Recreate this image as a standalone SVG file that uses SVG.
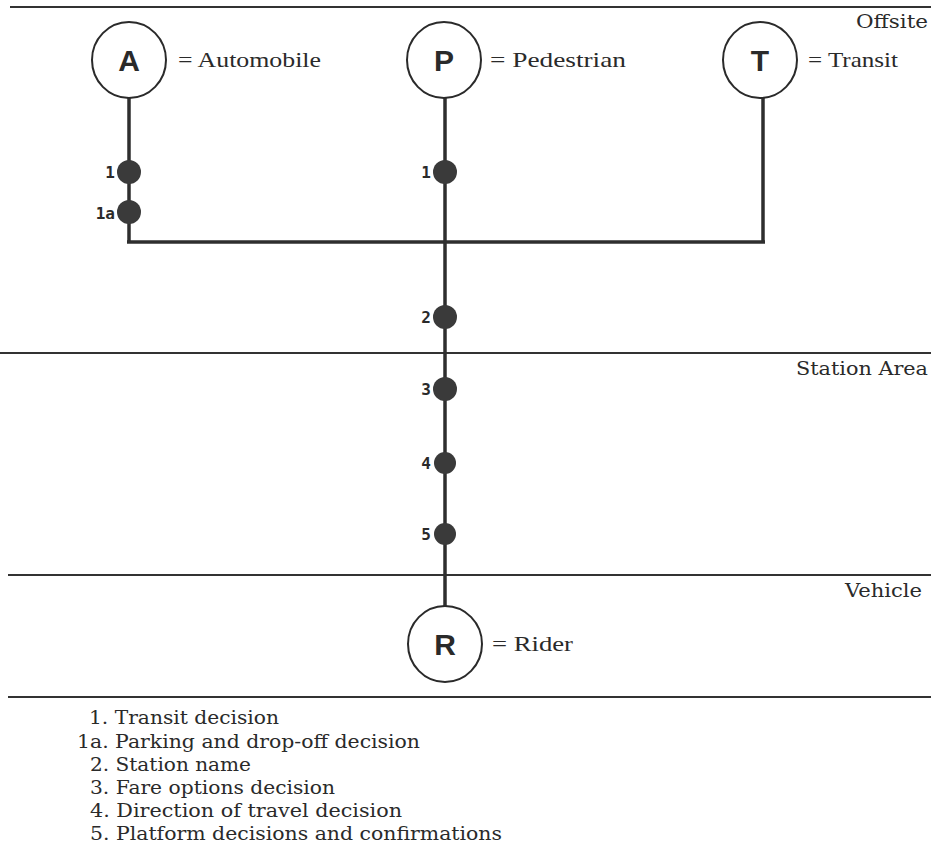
<svg xmlns="http://www.w3.org/2000/svg" width="931" height="856" viewBox="0 0 931 856">
<style>
.rule{stroke:#333;stroke-width:2;fill:none}
.conn{stroke:#2e2e2e;stroke-width:3.5;fill:none}
.mode{fill:#fff;stroke:#2a2a2a;stroke-width:2}
.letter{font-family:"Liberation Sans",Arial,sans-serif;font-weight:bold;font-size:30px;fill:#2a2a2a;text-anchor:middle}
.lbl{font-family:"Liberation Serif","Times New Roman",serif;font-size:21px;fill:#2a2a2a}
.zone{font-family:"DejaVu Serif",serif;font-size:18px;fill:#2a2a2a;text-anchor:end}
.dot{fill:#3a3a3a}
.num{font-family:"DejaVu Sans Mono",monospace;font-weight:bold;font-size:16px;fill:#2a2a2a;text-anchor:end}
.leg{font-family:"DejaVu Serif",serif;font-size:18px;fill:#2a2a2a}
</style>
<rect width="931" height="856" fill="#fff"/>
<g id="zones">
<line class="rule" x1="10" y1="7" x2="931" y2="7"/>
<line class="rule" x1="0" y1="353" x2="931" y2="353"/>
<line class="rule" x1="8" y1="575" x2="931" y2="575"/>
<line class="rule" x1="8" y1="697" x2="931" y2="697"/>
<text class="zone" x="928" y="28" textLength="72" lengthAdjust="spacingAndGlyphs">Offsite</text>
<text class="zone" x="928" y="375" textLength="132" lengthAdjust="spacingAndGlyphs">Station Area</text>
<text class="zone" x="922" y="597" textLength="77" lengthAdjust="spacingAndGlyphs">Vehicle</text>
</g>
<g id="connectors">
<line class="conn" x1="129" y1="98" x2="129" y2="242"/>
<line class="conn" x1="445" y1="98" x2="445" y2="606"/>
<line class="conn" x1="763" y1="98" x2="763" y2="242"/>
<line class="conn" x1="127" y1="242" x2="765" y2="242"/>
</g>
<g id="node-A">
<ellipse class="mode" cx="129" cy="60" rx="37" ry="38"/>
<text class="letter" x="129" y="71">A</text>
<text class="lbl" x="178" y="67" textLength="143" lengthAdjust="spacingAndGlyphs">= Automobile</text>
</g>
<g id="node-P">
<ellipse class="mode" cx="444" cy="60" rx="37" ry="38"/>
<text class="letter" x="444" y="71">P</text>
<text class="lbl" x="490" y="67" textLength="136" lengthAdjust="spacingAndGlyphs">= Pedestrian</text>
</g>
<g id="node-T">
<ellipse class="mode" cx="760" cy="60" rx="37" ry="38"/>
<text class="letter" x="760" y="71">T</text>
<text class="lbl" x="808" y="67" textLength="90" lengthAdjust="spacingAndGlyphs">= Transit</text>
</g>
<g id="node-R">
<ellipse class="mode" cx="445" cy="644" rx="37" ry="38"/>
<text class="letter" x="445" y="655">R</text>
<text class="lbl" x="492" y="651" textLength="81" lengthAdjust="spacingAndGlyphs">= Rider</text>
</g>
<g id="decision-points">
<circle class="dot" cx="129" cy="172" r="12"/><text class="num" x="115" y="178">1</text>
<circle class="dot" cx="129" cy="212" r="12"/><text class="num" x="115" y="219">1a</text>
<circle class="dot" cx="445" cy="172" r="12"/><text class="num" x="431" y="178">1</text>
<circle class="dot" cx="445" cy="317" r="12"/><text class="num" x="431" y="323">2</text>
<circle class="dot" cx="445" cy="389" r="12"/><text class="num" x="431" y="395">3</text>
<circle class="dot" cx="445" cy="463" r="11"/><text class="num" x="431" y="469">4</text>
<circle class="dot" cx="445" cy="534" r="11"/><text class="num" x="431" y="540">5</text>
</g>
<g id="legend">
<text class="leg" x="89" y="724" textLength="190" lengthAdjust="spacingAndGlyphs">1. Transit decision</text>
<text class="leg" x="77" y="748" textLength="343" lengthAdjust="spacingAndGlyphs">1a. Parking and drop-off decision</text>
<text class="leg" x="90" y="771" textLength="161" lengthAdjust="spacingAndGlyphs">2. Station name</text>
<text class="leg" x="90" y="794" textLength="245" lengthAdjust="spacingAndGlyphs">3. Fare options decision</text>
<text class="leg" x="90" y="817" textLength="312" lengthAdjust="spacingAndGlyphs">4. Direction of travel decision</text>
<text class="leg" x="90" y="840" textLength="412" lengthAdjust="spacingAndGlyphs">5. Platform decisions and confirmations</text>
</g>
</svg>
